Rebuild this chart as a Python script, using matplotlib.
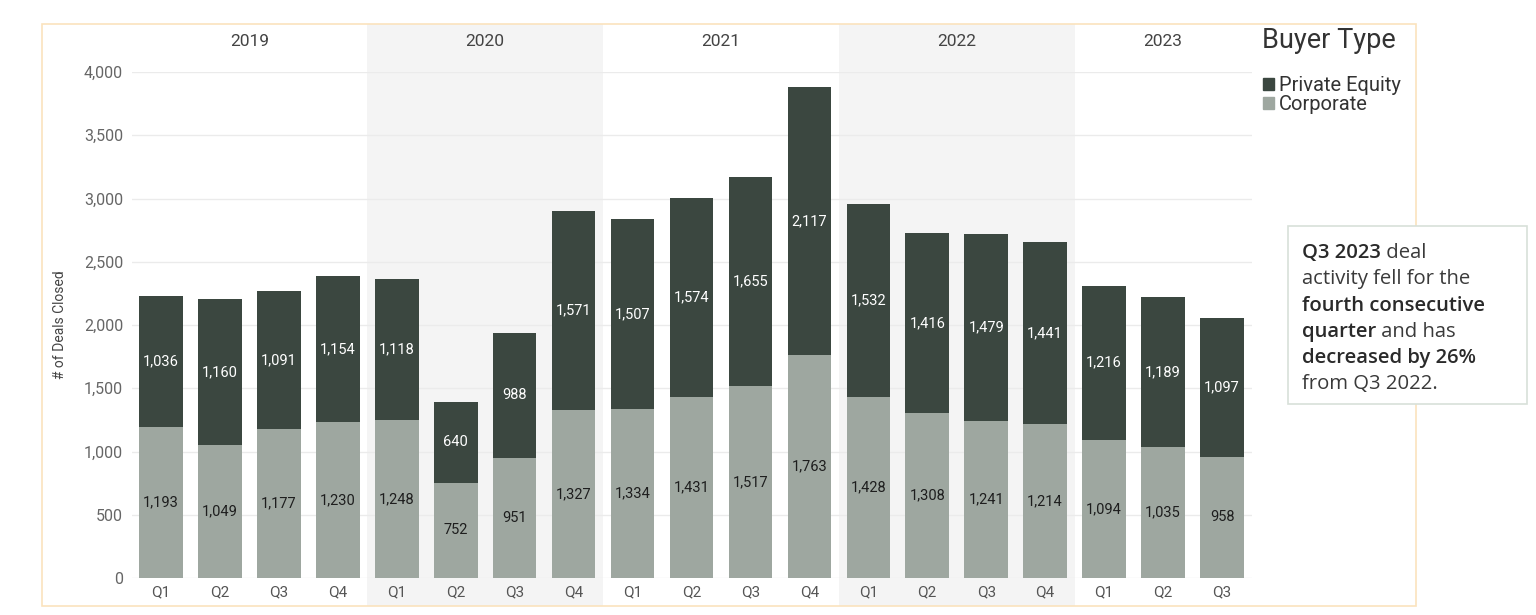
import matplotlib.pyplot as plt
from matplotlib.patches import Rectangle, Patch
from matplotlib.transforms import blended_transform_factory
import numpy as np

plt.rcParams['font.family'] = ['Roboto', 'DejaVu Sans']

years = ['2019', '2020', '2021', '2022', '2023']
quarters = ['Q1', 'Q2', 'Q3', 'Q4'] * 4 + ['Q1', 'Q2', 'Q3']
year_of_bar = [0] * 4 + [1] * 4 + [2] * 4 + [3] * 4 + [4] * 3
corporate = [1193, 1049, 1177, 1230, 1248, 752, 951, 1327, 1334, 1431, 1517,
             1763, 1428, 1308, 1241, 1214, 1094, 1035, 958]
private_equity = [1036, 1160, 1091, 1154, 1118, 640, 988, 1571, 1507, 1574, 1655,
                  2117, 1532, 1416, 1479, 1441, 1216, 1189, 1097]

pe_color = '#3b4740'
corp_color = '#9ea7a0'

W, H = 1536, 615
fig = plt.figure(figsize=(W / 100, H / 100), dpi=100)
ax = fig.add_axes([131.5 / W, 1 - 578 / H, 1120 / W, (578 - 72) / H])

x = np.arange(len(corporate))
corp = np.array(corporate)
pe = np.array(private_equity)

# shaded year bands (2020, 2022) spanning the frame height
trans = blended_transform_factory(ax.transData, fig.transFigure)
fy0, fy1 = 1 - 606 / H, 1 - 24 / H
yr = np.array(year_of_bar)
for i, y in enumerate(years):
    idx = np.where(yr == i)[0]
    lo, hi = idx.min() - 0.5, idx.max() + 0.5
    if i % 2 == 1:
        fig.add_artist(Rectangle((lo, fy0), hi - lo, fy1 - fy0, transform=trans,
                                 facecolor='#f4f4f4', edgecolor='none', zorder=0))
    fig.text((lo + hi) / 2, 1 - 42 / H, y, transform=trans, ha='center', va='center',
             fontsize=12.5, color='#444444')

# frame
fig.add_artist(Rectangle((42 / W, fy0), (1416 - 42) / W, fy1 - fy0, transform=fig.transFigure,
                         facecolor='none', edgecolor='#fbe3bd', linewidth=1.2, zorder=1))

ax.set_facecolor('none')
ax.bar(x, corp, width=0.74, color=corp_color, zorder=3)
ax.bar(x, pe, width=0.74, bottom=corp, color=pe_color, zorder=3)

for i in x:
    ax.text(i, corp[i] / 2, f'{corp[i]:,}', ha='center', va='center',
            fontsize=10.5, color='#1e1e1e', zorder=4)
    ax.text(i, corp[i] + pe[i] / 2, f'{pe[i]:,}', ha='center', va='center',
            fontsize=10.5, color='white', zorder=4)

ax.set_xlim(-0.5, len(x) - 0.5)
ax.set_ylim(0, 4000)
ax.set_yticks(np.arange(0, 4001, 500))
ax.yaxis.set_major_formatter(plt.FuncFormatter(lambda v, p: f'{int(v):,}'))
ax.set_xticks(x)
ax.set_xticklabels(quarters)
ax.tick_params(axis='both', length=0, labelsize=11.5, colors='#666666')
ax.tick_params(axis='x', pad=5, labelsize=11, colors='#555555')
ax.tick_params(axis='y', pad=6)
ax.grid(axis='y', color='#ebebeb', linewidth=1, zorder=1)
for s in ax.spines.values():
    s.set_visible(False)
ax.set_ylabel('# of Deals Closed', fontsize=10, color='#444444', labelpad=12)

# legend
fig.text(1262 / W, 1 - 40 / H, 'Buyer Type', fontsize=19.5, color='#333333', va='center', ha='left')
handles = [Patch(color=pe_color), Patch(color=corp_color)]
fig.legend(handles, ['Private Equity', 'Corporate'], loc='upper left',
           bbox_to_anchor=(1263 / W, 1 - 76 / H), frameon=False, fontsize=14.5,
           handlelength=0.55, handleheight=0.55, handletextpad=0.25, labelspacing=0.0,
           borderaxespad=0, borderpad=0, labelcolor='#333333')

# annotation box
fig.add_artist(Rectangle((1288 / W, 1 - 404 / H), (1527 - 1288) / W, (404 - 226) / H,
                         transform=fig.transFigure, facecolor='white',
                         edgecolor='#d8e0d9', linewidth=1.2))
lines = [
    [('Q3 2023', True), (' deal', False)],
    [('activity fell for the', False)],
    [('fourth consecutive', True)],
    [('quarter', True), (' and has', False)],
    [('decreased by 26%', True)],
    [('from Q3 2022.', False)],
]
for k, runs in enumerate(lines):
    ypos = 1 - (263 + k * 26.3) / H
    prev = None
    for txt, bold in runs:
        kw = dict(fontsize=14.6, color='#2a2a2a' if bold else '#3a3a3a',
                  fontweight='semibold' if bold else 'normal', ha='left', va='bottom',
                  family=['Open Sans', 'DejaVu Sans'])
        if prev is None:
            prev = fig.text(1302 / W, ypos, txt, **kw)
        else:
            prev = fig.add_artist(plt.Annotation(txt, xy=(1, 0), xycoords=prev, **kw))

fig.savefig('out.png', dpi=100)
